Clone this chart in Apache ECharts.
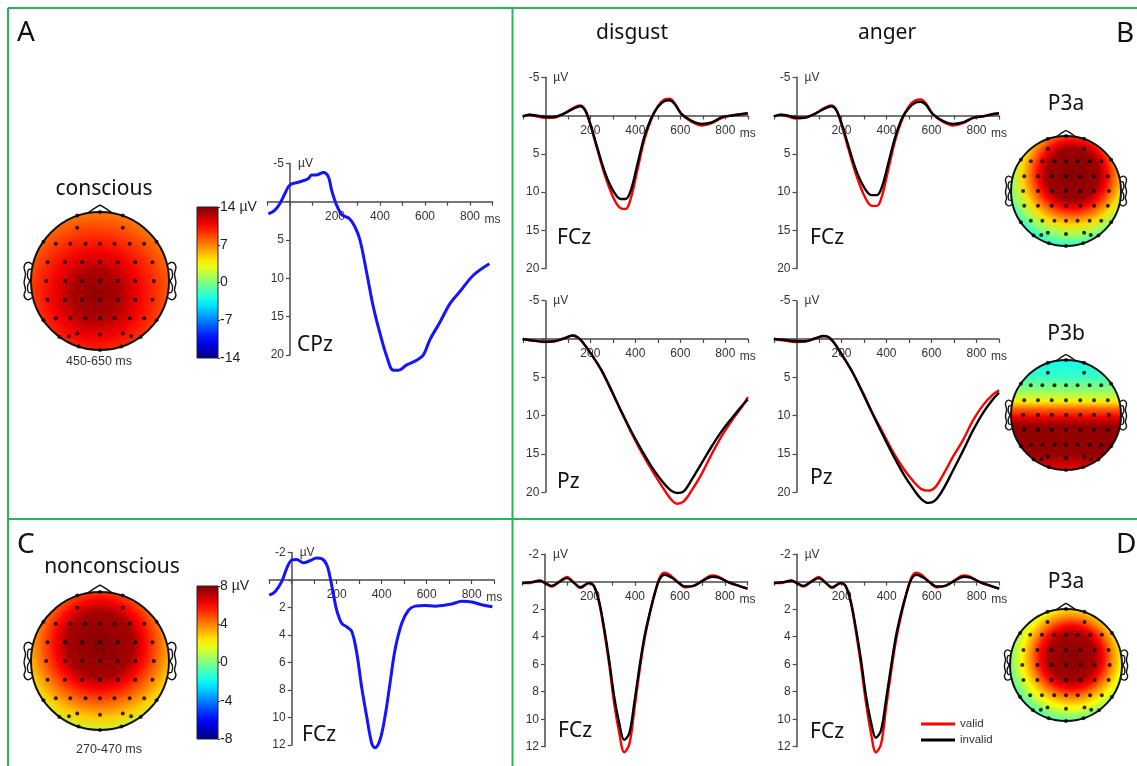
<!DOCTYPE html>
<html>
<head>
<meta charset="utf-8">
<title>ERP figure</title>
<script src="https://cdn.jsdelivr.net/npm/echarts@6/dist/echarts.min.js"></script>
<style>
html, body { margin: 0; padding: 0; background: #fff; }
#chart { width: 1137px; height: 766px; }
</style>
</head>
<body>
<div id="chart"></div>
<script>
// ---- values (ms / uV) ----
// A: conscious, CPz
var tA = [-96, -67, -44, -22, 0, 44, 81, 96, 119, 148, 170, 185, 204, 230, 264, 289, 311, 341, 370, 400, 430, 459, 481, 519, 563, 593, 622, 667, 711, 756, 815, 886];
var cpzConscious = [1.6, 1.1, 0.2, -1.1, -2.2, -2.6, -3.0, -3.5, -3.5, -3.8, -3.3, -1.5, 0.2, 1.7, 2.2, 3.3, 5.0, 9.3, 13.7, 17.2, 20.2, 22.0, 22.0, 21.3, 20.7, 20.0, 18.0, 15.7, 13.3, 11.7, 9.6, 8.1];

// B: FCz (top row)
var tFCz = [-100, -70, -40, 0, 35, 80, 125, 155, 177, 200, 230, 267, 305, 335, 357, 380, 410, 440, 470, 500, 530, 552, 575, 605, 650, 695, 740, 785, 830, 875, 900];
var disgustFCzValid   = [0.1, -0.1, 0.1, 0.3, 0.3, -0.2, -1.0, -1.3, -0.7, 1.2, 4.3, 8.0, 10.9, 12.1, 12.2, 10.8, 7.0, 3.2, 0.6, -1.2, -2.1, -2.2, -1.6, -0.2, 0.8, 1.3, 1.0, 0.3, 0, -0.2, -0.3];
var disgustFCzInvalid = [0.1, -0.1, 0, 0.2, 0.2, -0.2, -0.9, -1.2, -0.7, 1.1, 4.1, 7.6, 10.0, 10.9, 10.9, 9.8, 6.3, 2.8, 0.4, -1.1, -1.9, -2.0, -1.5, -0.2, 0.7, 1.1, 0.9, 0.2, 0, -0.2, -0.3];
var angerFCzValid     = [0.1, -0.1, 0.1, 0.4, 0.3, -0.2, -1.0, -1.3, -0.7, 1.2, 4.3, 7.9, 10.7, 11.8, 11.8, 10.5, 6.8, 3.1, 0.5, -1.2, -2.0, -2.1, -1.6, -0.2, 0.8, 1.3, 1.0, 0.3, 0.1, -0.2, -0.3];
var angerFCzInvalid   = [0.1, -0.1, 0, 0.3, 0.3, -0.2, -0.9, -1.2, -0.7, 1.0, 3.9, 7.3, 9.6, 10.4, 10.4, 9.3, 6.0, 2.7, 0.3, -1.0, -1.7, -1.8, -1.4, -0.2, 0.7, 1.1, 0.9, 0.3, 0.1, -0.2, -0.3];

// B: Pz (bottom row)
var tPz = [-100, -55, -5, 40, 85, 122, 145, 167, 205, 250, 295, 340, 385, 430, 475, 520, 555, 585, 615, 650, 695, 740, 785, 830, 875, 900];
var disgustPzValid   = [0, 0.2, 0.4, 0.3, -0.1, -0.45, -0.2, 0.45, 2.0, 4.1, 6.8, 9.6, 12.4, 14.9, 17.2, 19.3, 20.8, 21.5, 21.2, 19.8, 17.6, 15.0, 12.6, 10.6, 8.8, 7.6];
var disgustPzInvalid = [0, 0.2, 0.35, 0.3, -0.1, -0.45, -0.2, 0.45, 2.0, 4.1, 6.8, 9.6, 12.2, 14.6, 16.8, 18.6, 19.7, 20.1, 19.9, 18.4, 16.2, 14.0, 12.0, 10.3, 8.7, 7.9];
var angerPzValid     = [0, 0.2, 0.4, 0.3, -0.1, -0.4, -0.2, 0.5, 2.2, 4.4, 7.0, 9.8, 12.3, 14.8, 16.9, 18.6, 19.6, 19.8, 19.4, 17.8, 15.4, 13.2, 10.6, 8.6, 7.2, 6.7];
var angerPzInvalid   = [0, 0.1, 0.3, 0.3, -0.1, -0.4, -0.2, 0.5, 2.2, 4.4, 7.1, 9.9, 12.6, 15.2, 17.6, 19.6, 20.9, 21.4, 21.1, 19.7, 17.2, 14.6, 11.9, 9.6, 7.8, 7.0];

// C: nonconscious, FCz
var tC = [-100, -74, -44, -22, 0, 22, 52, 81, 111, 133, 156, 170, 185, 200, 222, 244, 267, 289, 311, 333, 356, 370, 393, 415, 437, 459, 489, 519, 548, 593, 637, 667, 711, 756, 800, 844, 892];
var fczNonconscious = [1.1, 0.85, 0.1, -0.85, -1.45, -1.5, -1.25, -1.4, -1.6, -1.55, -1.1, -0.25, 1.0, 2.2, 3.15, 3.4, 3.75, 5.3, 7.8, 9.9, 11.9, 12.2, 11.6, 9.9, 7.5, 5.1, 3.15, 2.2, 1.9, 1.85, 1.9, 1.85, 1.75, 1.55, 1.6, 1.8, 1.95];

// D: nonconscious FCz, valid vs invalid
var tD = [-100, -67, -22, 0, 30, 67, 97, 127, 157, 195, 217, 240, 262, 285, 307, 330, 352, 375, 397, 420, 442, 465, 487, 510, 532, 562, 592, 622, 660, 697, 742, 772, 817, 862, 900];
var disgustDValid   = [0.1, 0.1, -0.1, 0.1, 0.35, -0.05, -0.35, 0.05, 0.45, 0.1, 0.3, 1.5, 3.5, 6.0, 8.8, 11.0, 12.4, 11.8, 9.3, 6.5, 4.2, 2.4, 0.9, -0.3, -0.65, -0.4, 0.05, 0.4, 0.3, -0.05, -0.45, -0.35, 0.05, 0.3, 0.5];
var disgustDInvalid = [0.1, 0.05, -0.07, 0.1, 0.3, -0.02, -0.26, 0.05, 0.4, 0.1, 0.3, 1.4, 3.3, 5.7, 8.3, 10.3, 11.5, 11.0, 8.8, 6.2, 4.0, 2.3, 0.9, -0.2, -0.5, -0.3, 0.05, 0.35, 0.3, -0.02, -0.36, -0.3, 0.05, 0.3, 0.5];
var angerDValid     = [0.1, 0.1, -0.1, 0.1, 0.35, -0.05, -0.35, 0.05, 0.45, 0.1, 0.3, 1.5, 3.5, 6.0, 8.7, 11.0, 12.4, 11.8, 9.2, 6.5, 4.2, 2.4, 0.9, -0.3, -0.65, -0.4, 0.05, 0.4, 0.3, -0.05, -0.45, -0.35, 0.05, 0.3, 0.5];
var angerDInvalid   = [0.1, 0.05, -0.07, 0.1, 0.3, -0.02, -0.26, 0.05, 0.4, 0.1, 0.3, 1.4, 3.3, 5.6, 8.2, 10.2, 11.35, 10.8, 8.6, 6.1, 3.9, 2.2, 0.9, -0.2, -0.5, -0.3, 0.05, 0.35, 0.3, -0.02, -0.36, -0.3, 0.05, 0.3, 0.5];

// colour bar ticks
var barTicksA = [14, 7, 0, -7, -14];
var barTicksC = [8, 4, 0, -4, -8];

// scalp maps: value (uV) at gradient offsets
var mapA    = {range: 14, kind: 'radial', center: [0.47, 0.6], radius: 0.78, pos: [0, 0.22, 0.4, 0.55, 0.7, 0.85, 1], vals: [13.6, 12.8, 10.8, 9.3, 7.8, 6.5, 5.5]};
var mapBP3a = {range: 14, kind: 'radial', center: [0.56, 0.35], radius: 0.72, pos: [0, 0.33, 0.43, 0.53, 0.64, 0.76, 0.88, 1], vals: [13.9, 13.2, 10.5, 7.5, 4.5, 1, -1.8, -3]};
var mapBP3b = {range: 14, kind: 'linear', pos: [0, 0.15, 0.3, 0.38, 0.45, 0.52, 0.6, 0.85, 1], vals: [-3, -2, 1, 4, 8, 11, 13.5, 13.5, 11]};
var mapC    = {range: 8, kind: 'radial', center: [0.5, 0.38], radius: 0.85, pos: [0, 0.28, 0.38, 0.51, 0.63, 0.75, 0.88, 1], vals: [7.9, 7.4, 6, 4.3, 2.8, 1, -0.5, -1.5]};
var mapD    = {range: 8, kind: 'radial', center: [0.55, 0.43], radius: 0.7, pos: [0, 0.3, 0.4, 0.51, 0.64, 0.77, 0.9, 1], vals: [7.9, 7.4, 6, 4, 2, 0, -1.5, -2.2]};

// electrode positions on the unit head (y down)
var electrodes = [
  [-0.33, -0.77], [0.33, -0.77],
  [-0.64, -0.54], [-0.43, -0.54], [-0.21, -0.54], [0, -0.54], [0.21, -0.54], [0.43, -0.54], [0.64, -0.54],
  [-0.76, -0.27], [-0.51, -0.27], [-0.26, -0.27], [0, -0.27], [0.26, -0.27], [0.51, -0.27], [0.76, -0.27],
  [-0.78, 0], [-0.51, 0], [-0.26, 0], [0, 0], [0.26, 0], [0.51, 0], [0.78, 0],
  [-0.76, 0.27], [-0.51, 0.27], [-0.26, 0.27], [0, 0.27], [0.26, 0.27], [0.51, 0.27], [0.76, 0.27],
  [-0.64, 0.54], [-0.43, 0.54], [-0.21, 0.54], [0, 0.54], [0.21, 0.54], [0.43, 0.54], [0.64, 0.54],
  [-0.45, 0.8], [-0.33, 0.76], [0, 0.78], [0.33, 0.76], [0.45, 0.8],
  [0, -1], [-0.33, -0.95], [0.33, -0.95], [-0.82, -0.57], [0.82, -0.57], [-0.82, 0.57], [0.82, 0.57],
  [-0.59, 0.81], [0.59, 0.81], [-0.31, 0.95], [0.31, 0.95], [0, 1]
];

// head outline decorations (unit head)
var noseShape = [[-0.17, -0.99], [-0.07, -1.06], [0, -1.1], [0.07, -1.06], [0.17, -0.99]];
var earOuter = [[-0.98, -0.24], [-1.05, -0.27], [-1.1, -0.21], [-1.08, -0.1], [-1.1, 0.02], [-1.08, 0.13], [-1.1, 0.21], [-1.05, 0.27], [-0.98, 0.24]];
var earInner = [[-1.0, -0.17], [-1.04, -0.16], [-1.05, -0.06], [-1.02, 0.0], [-1.05, 0.07], [-1.04, 0.16], [-1.0, 0.17]];

var GREEN = '#2bb35a';
var AXIS = '#4a4a4a';
var SANS = '"Noto Sans", "Open Sans", sans-serif';
var ARIAL = '"Liberation Sans", Arial, sans-serif';

function jet(t) {
  t = Math.max(0, Math.min(1, t));
  var s = [[0, [0, 0, 128]], [0.125, [0, 0, 255]], [0.375, [0, 255, 255]], [0.625, [255, 255, 0]], [0.875, [255, 0, 0]], [1, [128, 0, 0]]];
  for (var i = 1; i < s.length; i++) {
    if (t <= s[i][0]) {
      var a = s[i - 1], b = s[i], f = (t - a[0]) / (b[0] - a[0]);
      var rgb = [0, 1, 2].map(function (k) { return Math.round(a[1][k] + f * (b[1][k] - a[1][k])); });
      return 'rgb(' + rgb.join(',') + ')';
    }
  }
  return 'rgb(128,0,0)';
}

function mapFill(m) {
  var stops = m.pos.map(function (p, i) {
    return {offset: p, color: jet((m.vals[i] + m.range) / (2 * m.range))};
  });
  if (m.kind === 'linear') return {type: 'linear', x: 0, y: 0, x2: 0, y2: 1, colorStops: stops};
  return {type: 'radial', x: m.center[0], y: m.center[1], r: m.radius, colorStops: stops};
}

var grids = [], xAxes = [], yAxes = [], series = [];
var PLOT_W = 225, T_MIN = -100, T_MAX = 900;

// one ERP panel: x from -100 to 900 ms, y reversed (negative up);
// the axes are shifted inside the grid so they cross at (0 ms, 0 uV)
function erpPanel(left, top, height, yMin, yMax, yStep) {
  var idx = grids.length;
  grids.push({left: left, top: top, width: PLOT_W, height: height});
  xAxes.push({
    gridIndex: idx, type: 'value', min: T_MIN, max: T_MAX, interval: 100,
    position: 'bottom', offset: -height * yMax / (yMax - yMin),
    name: 'ms', nameLocation: 'end', nameGap: -8,
    nameTextStyle: {fontFamily: ARIAL, fontSize: 12, color: '#333', align: 'left', verticalAlign: 'top', padding: [12, 0, 0, 0]},
    axisLine: {onZero: false, lineStyle: {color: AXIS, width: 1.5}},
    axisTick: {length: 4, lineStyle: {color: AXIS, width: 1.2}},
    axisLabel: {
      margin: 9, fontFamily: ARIAL, fontSize: 12, color: '#333',
      formatter: function (v) { return (v > 0 && v % 200 === 0) ? String(v) : ''; }
    },
    splitLine: {show: false}
  });
  yAxes.push({
    gridIndex: idx, type: 'value', inverse: true, min: yMin, max: yMax, interval: yStep,
    position: 'left', offset: -PLOT_W * (0 - T_MIN) / (T_MAX - T_MIN),
    name: 'µV', nameLocation: 'start', nameGap: 0,
    nameTextStyle: {fontFamily: ARIAL, fontSize: 12, color: '#333', align: 'left', verticalAlign: 'middle', padding: [0, 0, 0, 8]},
    axisLine: {onZero: false, lineStyle: {color: AXIS, width: 1.5}},
    axisTick: {length: 4, lineStyle: {color: AXIS, width: 1.2}},
    axisLabel: {
      margin: 6, fontFamily: ARIAL, fontSize: 12, color: '#333',
      formatter: function (v) { return v === 0 ? '' : String(v); }
    },
    splitLine: {show: false}
  });
  return idx;
}

function wave(name, idx, times, vals, color, width) {
  series.push({
    type: 'line', name: name, xAxisIndex: idx, yAxisIndex: idx,
    data: times.map(function (t, i) { return [t, vals[i]]; }),
    showSymbol: false, smooth: 0.35, clip: false, silent: true,
    lineStyle: {color: color, width: width}, itemStyle: {color: color}
  });
}

function headRenderer(m) {
  return function (params, api) {
    var c = api.coord([0, 0]);
    var r = Math.abs(api.size([1, 1])[0]);
    function pts(list, flip) {
      return list.map(function (p) { return [c[0] + (flip ? -p[0] : p[0]) * r, c[1] + p[1] * r]; });
    }
    var ln = {stroke: '#111', lineWidth: 1.4, fill: 'none'};
    return {
      type: 'group',
      children: [
        {type: 'circle', shape: {cx: c[0], cy: c[1], r: r}, style: {fill: mapFill(m)}},
        {type: 'polyline', shape: {points: pts(noseShape)}, style: ln},
        {type: 'polyline', shape: {points: pts(earOuter), smooth: 0.4}, style: ln},
        {type: 'polyline', shape: {points: pts(earOuter, true), smooth: 0.4}, style: ln},
        {type: 'polyline', shape: {points: pts(earInner), smooth: 0.4}, style: ln},
        {type: 'polyline', shape: {points: pts(earInner, true), smooth: 0.4}, style: ln},
        {type: 'circle', shape: {cx: c[0], cy: c[1], r: r}, style: {fill: 'none', stroke: '#111', lineWidth: 2}}
      ]
    };
  };
}

function scalpMap(cx, cy, r, m) {
  var idx = grids.length;
  grids.push({left: cx - r, top: cy - r, width: 2 * r, height: 2 * r});
  xAxes.push({gridIndex: idx, type: 'value', min: -1, max: 1, show: false});
  yAxes.push({gridIndex: idx, type: 'value', min: -1, max: 1, inverse: true, show: false});
  series.push({type: 'custom', xAxisIndex: idx, yAxisIndex: idx, data: [[0, 0]], clip: false, silent: true, renderItem: headRenderer(m)});
  series.push({
    type: 'scatter', xAxisIndex: idx, yAxisIndex: idx, data: electrodes, clip: false, silent: true,
    symbol: 'circle', symbolSize: 4, itemStyle: {color: '#000'}, z: 3
  });
}

function colourBar(left, top, height, ticks) {
  var idx = grids.length;
  var max = ticks[0], min = ticks[ticks.length - 1];
  grids.push({left: left, top: top, width: 21, height: height});
  xAxes.push({gridIndex: idx, type: 'value', min: 0, max: 1, show: false});
  yAxes.push({
    gridIndex: idx, type: 'value', min: min, max: max, interval: ticks[0] - ticks[1], position: 'right',
    axisLine: {show: false, onZero: false},
    axisTick: {inside: false, length: 2, lineStyle: {color: '#333'}},
    axisLabel: {
      margin: 2, fontFamily: ARIAL, fontSize: 14, color: '#222',
      formatter: function (v) { return v === max ? v + ' µV' : String(v); }
    },
    splitLine: {show: false}
  });
  var stops = [];
  for (var i = 0; i <= 20; i++) stops.push({offset: i / 20, color: jet(1 - i / 20)});
  series.push({
    type: 'custom', xAxisIndex: idx, yAxisIndex: idx, data: [[0, max, 1, min]], silent: true,
    renderItem: function (params, api) {
      var p0 = api.coord([api.value(0), api.value(1)]);
      var p1 = api.coord([api.value(2), api.value(3)]);
      return {
        type: 'rect',
        shape: {x: p0[0], y: p0[1], width: p1[0] - p0[0], height: p1[1] - p0[1]},
        style: {fill: {type: 'linear', x: 0, y: 0, x2: 0, y2: 1, colorStops: stops}, stroke: '#222', lineWidth: 1}
      };
    }
  });
}

// ---- panels ----
var gA  = erpPanel(267.5, 163.4, 191.5, -5, 20, 5);
var gB1 = erpPanel(522.8, 77.2, 191.5, -5, 20, 5);
var gB2 = erpPanel(774, 77.2, 191.5, -5, 20, 5);
var gB3 = erpPanel(522.8, 300.7, 191.5, -5, 20, 5);
var gB4 = erpPanel(774, 300.7, 191.5, -5, 20, 5);
var gC  = erpPanel(269.2, 552.5, 192.5, -2, 12, 2);
var gD1 = erpPanel(522.5, 554.2, 192.5, -2, 12, 2);
var gD2 = erpPanel(774.2, 554.2, 192.5, -2, 12, 2);

wave('CPz', gA, tA, cpzConscious, '#1414ff', 3);
wave('valid', gB1, tFCz, disgustFCzValid, '#ff0000', 2.4);
wave('invalid', gB1, tFCz, disgustFCzInvalid, '#000000', 2.4);
wave('valid', gB2, tFCz, angerFCzValid, '#ff0000', 2.4);
wave('invalid', gB2, tFCz, angerFCzInvalid, '#000000', 2.4);
wave('valid', gB3, tPz, disgustPzValid, '#ff0000', 2.4);
wave('invalid', gB3, tPz, disgustPzInvalid, '#000000', 2.4);
wave('valid', gB4, tPz, angerPzValid, '#ff0000', 2.4);
wave('invalid', gB4, tPz, angerPzInvalid, '#000000', 2.4);
wave('FCz', gC, tC, fczNonconscious, '#1414ff', 3);
wave('valid', gD1, tD, disgustDValid, '#ff0000', 2.4);
wave('invalid', gD1, tD, disgustDInvalid, '#000000', 2.4);
wave('valid', gD2, tD, angerDValid, '#ff0000', 2.4);
wave('invalid', gD2, tD, angerDInvalid, '#000000', 2.4);

scalpMap(100, 281, 69, mapA);
scalpMap(1066, 191, 55, mapBP3a);
scalpMap(1066, 415, 55, mapBP3b);
scalpMap(100, 661, 69, mapC);
scalpMap(1066, 665, 56, mapD);

colourBar(197, 207, 151, barTicksA);
colourBar(197, 586, 153, barTicksC);

function label(text, x, y, size, align, family, color) {
  return {
    type: 'text', x: x, y: y, silent: true, z: 10,
    style: {text: text, fontSize: size, fontFamily: family || SANS, fill: color || '#111', align: align || 'left', verticalAlign: 'middle'}
  };
}
function rule(x1, y1, x2, y2) {
  return {type: 'line', silent: true, z: 10, shape: {x1: x1, y1: y1, x2: x2, y2: y2}, style: {stroke: GREEN, lineWidth: 2}};
}

var graphics = [
  rule(8, 8, 1137, 8), rule(8, 8, 8, 766), rule(512.5, 8, 512.5, 766), rule(8, 519, 1137, 519),
  label('A', 17, 33, 28), label('B', 1116, 34, 28), label('C', 17, 545, 28), label('D', 1116, 545, 28),
  label('disgust', 632, 33, 21, 'center'), label('anger', 887, 33, 21, 'center'),
  label('conscious', 104, 189, 21, 'center'), label('450-650 ms', 99, 362, 12.5, 'center', ARIAL, '#333'),
  label('nonconscious', 112, 567, 21, 'center'), label('270-470 ms', 109, 750, 12.5, 'center', ARIAL, '#333'),
  label('CPz', 297, 345, 21), label('FCz', 557, 238, 21), label('FCz', 810, 238, 21),
  label('Pz', 557, 482, 21), label('Pz', 810, 478, 21),
  label('FCz', 302, 735, 21), label('FCz', 558, 731, 21), label('FCz', 810, 732, 21),
  label('P3a', 1066, 104, 21, 'center'), label('P3b', 1066, 334, 21, 'center'), label('P3a', 1066, 582, 21, 'center')
];

var chart = echarts.init(document.getElementById('chart'), null, {renderer: 'canvas'});
chart.setOption({
  animation: false,
  backgroundColor: '#fff',
  legend: {
    data: ['valid', 'invalid'], left: 921, top: 718, orient: 'vertical', padding: 0,
    itemWidth: 34, itemHeight: 3, itemGap: 4, icon: 'rect',
    textStyle: {fontFamily: ARIAL, fontSize: 11.5, color: '#333'}
  },
  grid: grids,
  xAxis: xAxes,
  yAxis: yAxes,
  series: series,
  graphic: graphics
});
</script>
</body>
</html>
